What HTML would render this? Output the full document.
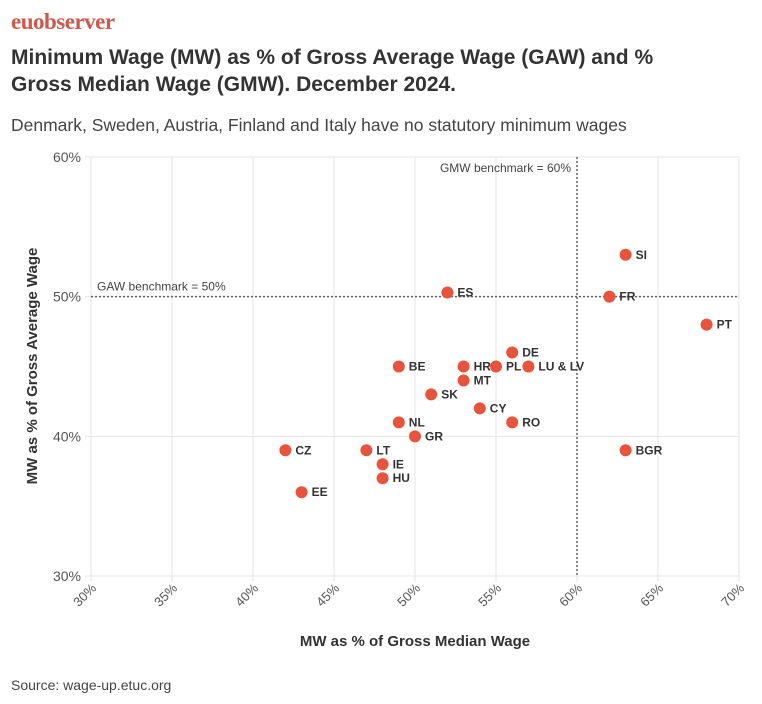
<!DOCTYPE html>
<html><head><meta charset="utf-8"><style>
body{margin:0;width:762px;height:704px;background:#fff;font-family:"Liberation Sans",sans-serif;color:#333;overflow:hidden;position:relative}
.logo{position:absolute;left:11px;top:9px;font-family:"Liberation Serif",serif;font-size:23px;font-weight:bold;color:#d0584b;letter-spacing:-0.5px}
h1{position:absolute;left:11px;top:44px;margin:0;font-size:21px;line-height:27px;font-weight:bold;color:#333;width:695px}
.sub{position:absolute;left:11px;top:115px;font-size:17.5px;color:#444}
.src{position:absolute;left:11px;top:677px;font-size:14px;color:#444}
</style></head><body>
<div class="logo">euobserver</div>
<h1>Minimum Wage (MW) as % of Gross Average Wage (GAW) and % Gross Median Wage (GMW). December 2024.</h1>
<div class="sub">Denmark, Sweden, Austria, Finland and Italy have no statutory minimum wages</div>
<svg id="chart" width="762" height="704" style="position:absolute;left:0;top:0"></svg>
<div class="src">Source: wage-up.etuc.org</div>
<script>
const labels=["SI","FR","PT","ES","DE","HR","PL","LU & LV","BE","MT","SK","CY","RO","NL","GR","BGR","CZ","LT","IE","HU","EE"];
const gmw=[63,62,68,52,56,53,55,57,49,53,51,54,56,49,50,63,42,47,48,48,43];
const gaw=[53,50,48,50.3,46,45,45,45,45,44,43,42,41,41,40,39,39,39,38,37,36];
const xTicks=[30,35,40,45,50,55,60,65,70];
const yTicks=[30,40,50,60];
const NS="http://www.w3.org/2000/svg";
const svg=document.getElementById('chart');
const X=v=>91+(v-30)*(739-91)/40;
const Y=v=>576-(v-30)*(576-157)/30;
function el(t,a,txt){const e=document.createElementNS(NS,t);for(const k in a)e.setAttribute(k,a[k]);if(txt!=null)e.textContent=txt;svg.appendChild(e);return e;}
xTicks.forEach(t=>{
 const l=el('line',{x1:X(t),x2:X(t),y1:157,y2:582,stroke:'#e6e6e6'});
 
 
 const tx=el('text',{x:X(t)+6,y:589,'font-size':13,fill:'#555','text-anchor':'end',transform:`rotate(-45 ${X(t)+6} 589)`},t+'%');
 
 
});
yTicks.forEach(t=>{
 const l=el('line',{x1:85,x2:739,y1:Y(t),y2:Y(t),stroke:'#e6e6e6'});
 
 
 const tx=el('text',{x:81,y:Y(t)+5,'font-size':14,fill:'#555','text-anchor':'end'},t+'%');
 
 
});
const b1=el('line',{x1:91,x2:739,y1:Y(50),y2:Y(50),stroke:'#666','stroke-width':1.5,'stroke-dasharray':'2,2'});


const b2=el('line',{x1:X(60),x2:X(60),y1:157,y2:576,stroke:'#666','stroke-width':1.5,'stroke-dasharray':'2,2'});


const t1=el('text',{x:97,y:Y(50)-6,'font-size':12,fill:'#444'},'GAW benchmark = 50%');


const t2=el('text',{x:X(60)-6,y:172,'font-size':12,fill:'#444','text-anchor':'end'},'GMW benchmark = 60%');


labels.forEach((lab,i)=>{
 const c=el('circle',{cx:X(gmw[i]),cy:Y(gaw[i]),r:6,fill:'#e8533c'});
 
 
 const t=el('text',{x:X(gmw[i])+10,y:Y(gaw[i])+4,'font-size':12,'font-weight':'bold',fill:'#333'},lab);
 
 
});
const xt=el('text',{x:415,y:646,'font-size':15,'font-weight':'bold',fill:'#333','text-anchor':'middle'},'MW as % of Gross Median Wage');


const yt=el('text',{x:0,y:0,'font-size':15,'font-weight':'bold',fill:'#333','text-anchor':'middle',transform:'translate(37 366) rotate(-90)'},'MW as % of Gross Average Wage');


</script>
</body></html>
